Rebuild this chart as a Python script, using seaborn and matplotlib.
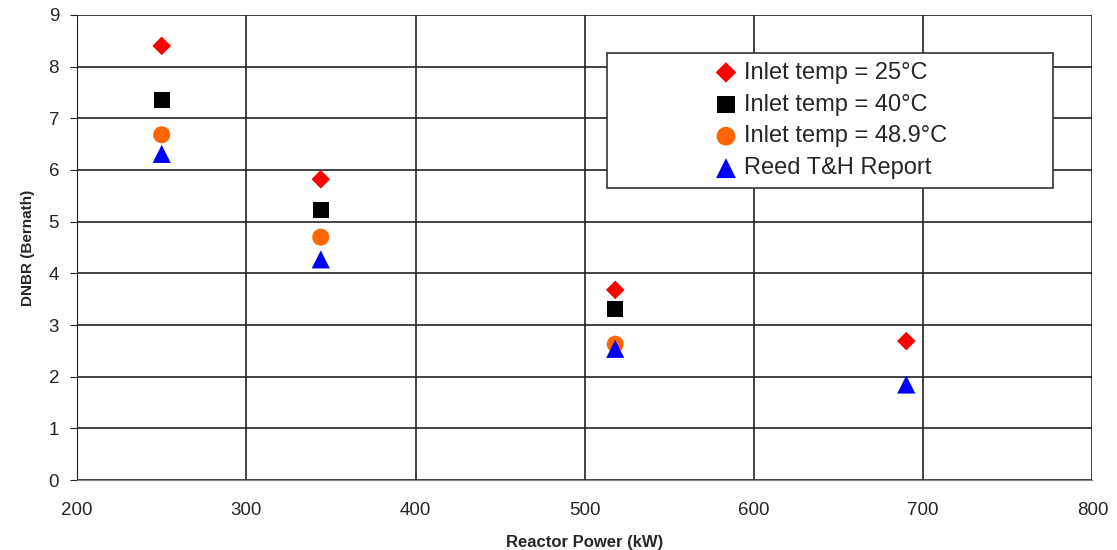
import pandas as pd
import matplotlib.pyplot as plt
import seaborn as sns
from matplotlib.patches import Rectangle

# reactor power (kW) and DNBR values
power_25 = [250, 344, 518, 690]
dnbr_25 = [8.40, 5.82, 3.68, 2.69]
power_40 = [250, 344, 518]
dnbr_40 = [7.35, 5.22, 3.31]
power_489 = [250, 344, 518]
dnbr_489 = [6.68, 4.70, 2.63]
power_reed = [250, 344, 518, 690]
dnbr_reed = [6.31, 4.27, 2.54, 1.85]

labels = ["Inlet temp = 25°C", "Inlet temp = 40°C", "Inlet temp = 48.9°C", "Reed T&H Report"]

rows = []
for lab, xs, ys in zip(labels, [power_25, power_40, power_489, power_reed],
                       [dnbr_25, dnbr_40, dnbr_489, dnbr_reed]):
    for x, y in zip(xs, ys):
        rows.append({"power": x, "dnbr": y, "series": lab})
df = pd.DataFrame(rows)

sns.set_style("white")
plt.rcParams['font.family'] = ['Liberation Sans', 'DejaVu Sans']

f, ax = plt.subplots(figsize=(11.17, 5.5), dpi=100)
palette = dict(zip(labels, ["#ff0000", "#000000", "#ff6600", "#0000ff"]))
markers = dict(zip(labels, ["D", "s", "o", "^"]))
sizes = {labels[0]: 90, labels[1]: 130, labels[2]: 150, labels[3]: 170}
for lab in labels:
    sub = df[df.series == lab]
    sns.scatterplot(data=sub, x="power", y="dnbr", color=palette[lab], marker=markers[lab],
                    s=sizes[lab], edgecolor="none", label=lab, ax=ax, zorder=3)

ax.set_xlim(200, 800)
ax.set_ylim(0, 9)
ax.set_xticks(range(200, 801, 100))
ax.set_yticks(range(0, 10))
ax.grid(True, color="#222222", linewidth=1.2)
ax.set_axisbelow(True)
for s in ["top", "right"]:
    ax.spines[s].set_visible(False)
ax.spines["left"].set_color("#222222")
ax.spines["bottom"].set_color("#888888")
ax.tick_params(axis="y", which="both", left=True, length=5, color="#222222", labelsize=13.5, pad=8)
ax.tick_params(axis="x", bottom=False, labelsize=13.5, pad=12)
ax.set_xlabel("Reactor Power (kW)", fontsize=12, fontweight="bold", labelpad=12)
ax.set_ylabel("DNBR (Bernath)", fontsize=11, fontweight="bold", labelpad=10)

# legend box drawn as its own frame, entries centred inside it
box = Rectangle((0.522, 0.628), 0.439, 0.290, transform=ax.transAxes, facecolor="white",
                edgecolor="#333333", linewidth=1.2, zorder=4)
ax.add_patch(box)
leg = ax.legend(loc="center", bbox_to_anchor=(0.742, 0.773), fontsize=17, frameon=False,
                handletextpad=0.25, labelspacing=0.42, borderaxespad=0, handlelength=1.0,
                markerscale=1.1)
leg.set_zorder(5)

plt.subplots_adjust(left=0.069, right=0.978, top=0.973, bottom=0.127)
plt.savefig("out.png", dpi=100)
